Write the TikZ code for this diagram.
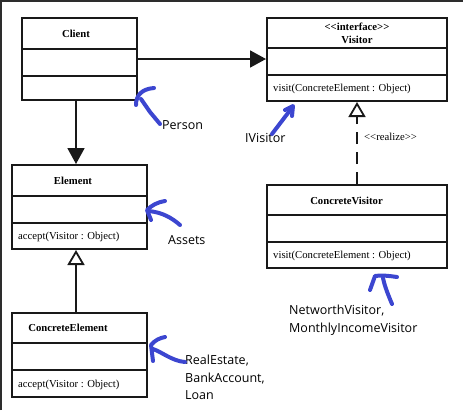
\documentclass[tikz,border=0pt]{standalone}
\usepackage{fontspec}
\setmainfont{Liberation Serif}
\newfontfamily\annotfont{Open Sans}
\usetikzlibrary{arrows.meta}
\definecolor{inkblue}{RGB}{60,70,208}
\definecolor{edge}{RGB}{25,25,25}
\definecolor{frame}{RGB}{45,45,45}
\newcommand{\ltlt}{\textless\kern0pt\textless}
\newcommand{\gtgt}{\textgreater\kern0pt\textgreater}
\begin{document}
\begin{tikzpicture}[x=1pt,y=-1pt,
  cls/.style={draw=edge, line width=2pt, fill=white, inner sep=0pt},
  div/.style={draw=edge, line width=2pt},
  title/.style={font=\fontsize{10.7}{13}\selectfont\bfseries, inner sep=0pt},
  op/.style={font=\fontsize{10.7}{13}\selectfont, inner sep=0pt, anchor=west},
  note/.style={font=\annotfont\fontsize{12.5}{17.5}\selectfont, inner sep=0pt, anchor=west, align=left},
  hand/.style={draw=inkblue, line width=4pt, line cap=round, line join=round},
  link/.style={draw=edge, line width=1.8pt},
  solidtip/.style={-{Triangle[length=16pt,width=17pt]}},
  opentip/.style={-{Triangle[open,length=15pt,width=17pt,fill=white]}},
]
\useasboundingbox (0,0) rectangle (463,410);
\draw[line width=2pt, draw=frame] (1,410) -- (1,1) -- (463,1);

% class boxes
\node[cls, minimum width=115pt, minimum height=82pt] (client) at (79.5,59) {};
\node[cls, minimum width=180pt, minimum height=83pt] (visitor) at (357,59.5) {};
\node[cls, minimum width=180pt, minimum height=83pt] (cvisitor) at (357,226.5) {};
\node[cls, minimum width=135pt, minimum height=84pt] (element) at (79.5,207) {};
\node[cls, minimum width=135pt, minimum height=84pt] (celement) at (79.5,355) {};

% compartments
\draw[div] (client.west |- 0,49) -- (client.east |- 0,49);
\draw[div] (client.west |- 0,76) -- (client.east |- 0,76);
\draw[div] (visitor.west |- 0,48) -- (visitor.east |- 0,48);
\draw[div] (visitor.west |- 0,75) -- (visitor.east |- 0,75);
\draw[div] (cvisitor.west |- 0,215) -- (cvisitor.east |- 0,215);
\draw[div] (cvisitor.west |- 0,242) -- (cvisitor.east |- 0,242);
\draw[div] (element.west |- 0,196) -- (element.east |- 0,196);
\draw[div] (element.west |- 0,223) -- (element.east |- 0,223);
\draw[div] (celement.west |- 0,343) -- (celement.east |- 0,343);
\draw[div] (celement.west |- 0,370) -- (celement.east |- 0,370);

% texts
\node[title] (tclient) at (76,34) {Client};
\node[title] (tinterface) at (357,27) {\ltlt interface\gtgt};
\node[title] (tvisitor) at (357,39.5) {Visitor};
\node[op] (vvisit) at (273,89) {visit(ConcreteElement : Object)};
\node[title] (tcvisitor) at (346.5,201) {ConcreteVisitor};
\node[op] (cvvisit) at (273,256) {visit(ConcreteElement : Object)};
\node[title] (telement) at (73,181) {Element};
\node[op] (eaccept) at (18,237) {accept(Visitor : Object)};
\node[title] (tcelement) at (68,328) {ConcreteElement};
\node[op] (ceaccept) at (18,385) {accept(Visitor : Object)};

% connectors
\draw[link, solidtip] (client.east) -- (visitor.west |- client.east);
\draw[link, solidtip] ([xshift=-3.5pt]client.south) -- ([xshift=-3.5pt]element.north);
\draw[link, opentip] ([xshift=-3.5pt]celement.north) -- ([xshift=-3.5pt]element.south);
\draw[link, dash pattern=on 12pt off 8pt, opentip] (cvisitor.north) -- (visitor.south);
\node[op] (realize) at (364,137) {\ltlt realize\gtgt};

% annotations
\node[note] (person) at (162,125) {Person};
\node[note] (ivisitor) at (245,138) {IVisitor};
\node[note] (assets) at (168,240) {Assets};
\node[note] (cvnote) at (289,320) {NetworthVisitor,\\MonthlyIncomeVisitor};
\node[note] (cenote) at (185,377.5) {RealEstate,\\BankAccount,\\Loan};

% hand-drawn blue arrows
\draw[hand] (160,124) -- (150,112) -- (141,99);
\draw[hand] (136,105) .. controls (136,96) and (141,89) .. (154,88);
\draw[hand] (272,134) -- (291,109);
\draw[hand] (285,110) -- (293,106) -- (292,116);
\draw[hand] (180,225) .. controls (172,218) and (162,212) .. (148,211);
\draw[hand] (151,220) -- (147,210) .. controls (152,205) and (158,202) .. (165,201);
\draw[hand] (392,304) .. controls (386,290) and (384,283) .. (383,278);
\draw[hand] (370,290) -- (375,276) .. controls (383,275) and (390,276) .. (397,277);
\draw[hand] (185,362) .. controls (172,361) and (162,352) .. (153,349);
\draw[hand] (153,361) -- (151,345) .. controls (155,340) and (160,338) .. (165,337);
\end{tikzpicture}
\end{document}
